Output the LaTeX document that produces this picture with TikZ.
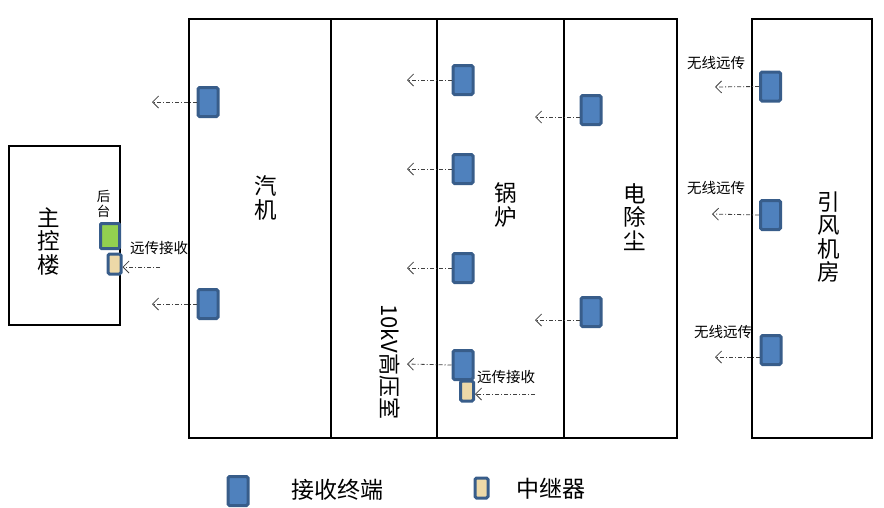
\documentclass[tikz,border=0pt]{standalone}
\usepackage{fontspec}
\setmainfont{Noto Sans CJK SC}
\usetikzlibrary{arrows.meta}
\definecolor{bfill}{HTML}{4F81BD}
\definecolor{bedge}{HTML}{385D8A}
\definecolor{rfill}{HTML}{EDD9A8}
\definecolor{gfill}{HTML}{92D050}
\definecolor{arrc}{HTML}{404040}
\begin{document}
\begin{tikzpicture}[x=1pt,y=-1pt,
  wall/.style={draw=black,line width=2pt},
  term/.style={draw=bedge,fill=bfill,line width=3pt,minimum width=20pt,minimum height=29pt,rounded corners=1.5pt,inner sep=0pt},
  relay/.style={draw=bedge,fill=rfill,line width=3pt,minimum width=13pt,minimum height=20pt,rounded corners=1.5pt,inner sep=0pt},
  backend/.style={draw=bedge,fill=gfill,line width=3pt,minimum width=19pt,minimum height=25pt,rounded corners=1pt,inner sep=0pt},
  sig/.style={draw=arrc,line width=0.8pt,dash pattern=on 4pt off 2pt on 1pt off 2pt,-{Straight Barb[length=6pt,width=12pt,line width=0.8pt]}},
  big/.style={align=center,inner sep=0pt,font=\fontsize{22.5}{23.5}\selectfont},
  small/.style={inner sep=0pt,font=\fontsize{14.5}{16}\selectfont},
  leg/.style={inner sep=0pt,font=\fontsize{23}{25}\selectfont}]
\useasboundingbox (0,0) rectangle (884,507);
% buildings
\node[wall,minimum width=111pt,minimum height=179pt,inner sep=0pt] (zk) at (64.5,235.5) {};
\node[wall,minimum width=488pt,minimum height=419pt,inner sep=0pt] (plant) at (433,228.5) {};
\node[wall,minimum width=120pt,minimum height=419pt,inner sep=0pt] (yf) at (812,228.5) {};
\draw[wall] (331,19) -- (331,438);
\draw[wall] (437,19) -- (437,438);
\draw[wall] (564,19) -- (564,438);
% labels
\node[big] (lzk) at (49,241) {主\\控\\楼};
\node[inner sep=0pt,align=center,font=\fontsize{13.5}{14.5}\selectfont] (lht) at (103.5,204) {后\\台};
\node[big] (lqj) at (266,198) {汽\\机};
\node[big] (lgl) at (506,205) {锅\\炉};
\node[big] (ldc) at (635,217) {电\\除\\尘};
\node[big] (lyf) at (829,237) {引\\风\\机\\房};
\node[inner sep=0pt,rotate=-90,font=\fontsize{22}{24}\selectfont] (lgy) at (390,362) {10kV高压室};
% devices
\node[backend] (ht) at (110,236) {};
\node[relay] (r1) at (114.5,264) {};
\node[term] (t1) at (208,102) {};
\node[term] (t2) at (208,304) {};
\node[term] (t3) at (463,80) {};
\node[term] (t4) at (463,169) {};
\node[term] (t5) at (463,268) {};
\node[term] (t6) at (463,365) {};
\node[relay] (r2) at (467,391) {};
\node[term] (t7) at (591,110) {};
\node[term] (t8) at (591,312) {};
\node[term] (t9) at (770.5,86.5) {};
\node[term] (t10) at (770.5,215) {};
\node[term] (t11) at (771,350) {};
% arrow endpoints
\coordinate (e1) at (152,102);
\coordinate (e2) at (152,304);
\coordinate (e3) at (407,80);
\coordinate (e4) at (407,169);
\coordinate (e5) at (407,268);
\coordinate (e6) at (407,364);
\coordinate (e7) at (535,117);
\coordinate (e8) at (535,320);
\coordinate (e9) at (715,87);
\coordinate (e10) at (712,214);
\coordinate (e11) at (715,357);
\coordinate (s1) at (160,267);
\coordinate (s2) at (535,394);
\draw[sig] (t1.west) -- (e1);
\draw[sig] (t2.west) -- (e2);
\draw[sig] (t3.west) -- (e3);
\draw[sig] (t4.west) -- (e4);
\draw[sig] (t5.west) -- (e5);
\draw[sig] (t6.west) -- (e6);
\draw[sig] (t7.west |- e7) -- (e7);
\draw[sig] (t8.west |- e8) -- (e8);
\draw[sig] (t9.west) -- (e9);
\draw[sig] (t10.west) -- (e10);
\draw[sig] (t11.west |- e11) -- (e11);
\draw[sig] (s1) -- (r1.east |- s1);
\draw[sig] (s2) -- (r2.east |- s2);
% small texts
\node[small] (tx1) at (159,248) {远传接收};
\node[small] (tx2) at (506,377) {远传接收};
\node[small] (tx3) at (716,63) {无线远传};
\node[small] (tx4) at (716,188) {无线远传};
\node[small] (tx5) at (723,332) {无线远传};
% legend
\node[term] (lg1) at (238,491) {};
\node[leg] (lgt1) at (337,490) {接收终端};
\node[relay] (lg2) at (481.5,488) {};
\node[leg] (lgt2) at (551,489) {中继器};
\end{tikzpicture}
\end{document}
